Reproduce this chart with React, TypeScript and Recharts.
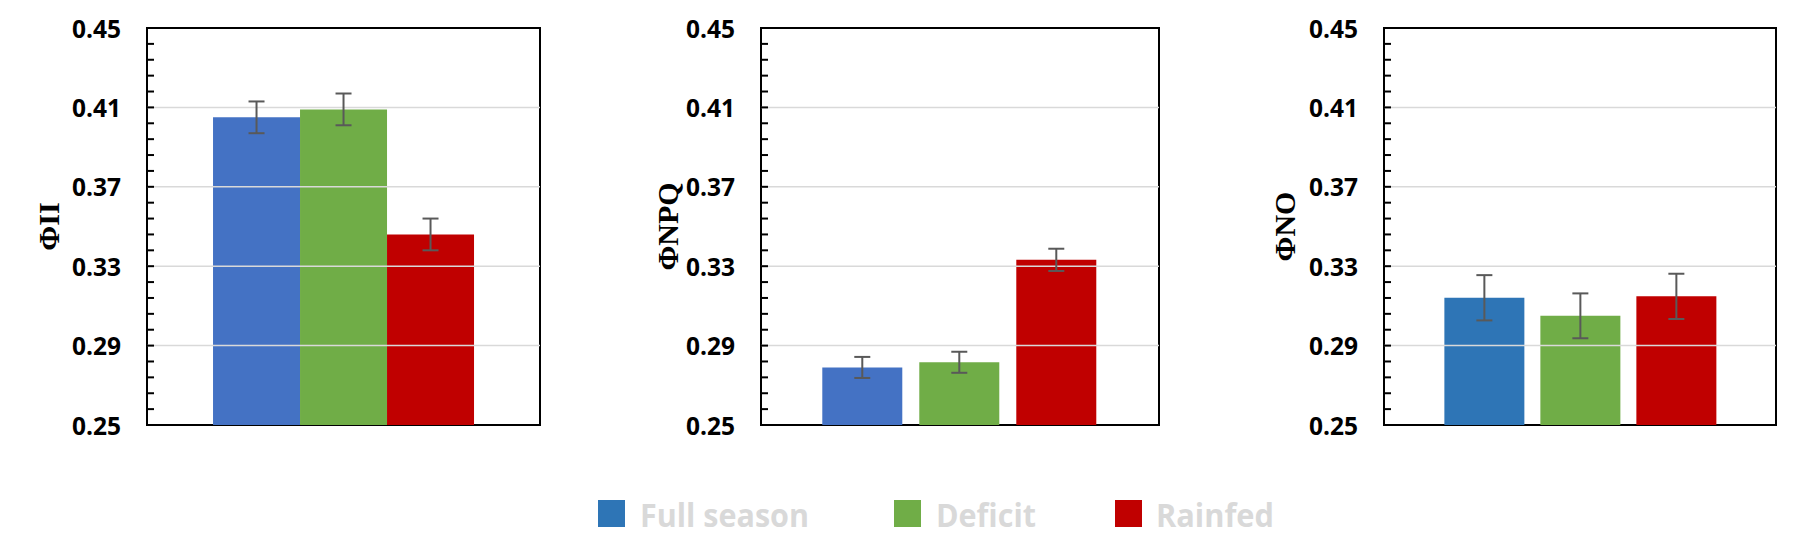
import React from "react"
import {
    BarChart, Bar, XAxis, YAxis, ErrorBar, ReferenceArea, ReferenceLine,
} from "recharts"

// treatments (series)
const seriesNames = ["Full season", "Deficit", "Rainfed"]
const seriesKeys = ["full", "deficit", "rainfed"]

// panel values, one entry per treatment
const phiII = [0.405, 0.409, 0.346]
const phiIIErr = [0.008, 0.008, 0.008]
const phiNPQ = [0.279, 0.2816, 0.3332]
const phiNPQErr = [0.0053, 0.0053, 0.0056]
const phiNO = [0.3141, 0.305, 0.3148]
const phiNOErr = [0.0114, 0.0113, 0.0114]

const yTicks = [0.25, 0.29, 0.33, 0.37, 0.41, 0.45]
const gridValues = [0.29, 0.33, 0.37, 0.41]
const allTicks = [
    0.25, 0.258, 0.266, 0.274, 0.282, 0.29, 0.298, 0.306, 0.314, 0.322, 0.33, 0.338, 0.346,
    0.354, 0.362, 0.37, 0.378, 0.386, 0.394, 0.402, 0.41, 0.418, 0.426, 0.434, 0.442, 0.45,
]

const LABEL_FONT = "'Open Sans', 'Noto Sans', sans-serif"
const TITLE_FONT = "'Liberation Serif', 'Times New Roman', serif"

function buildRow(values: number[], errors: number[]) {
    const row: Record<string, number | string> = { name: "" }
    seriesKeys.forEach((k, i) => {
        row[k] = values[i]
        row[k + "Err"] = errors[i]
    })
    return [row]
}

const panels = [
    {
        title: "ΦII", values: phiII, errors: phiIIErr,
        colors: ["#4472C4", "#70AD47", "#C00000"],
        plotLeft: 147, plotRight: 540, catGap: "16.8%", barGap: 0, titleOffset: 99,
    },
    {
        title: "ΦNPQ", values: phiNPQ, errors: phiNPQErr,
        colors: ["#4472C4", "#70AD47", "#C00000"],
        plotLeft: 761, plotRight: 1159, catGap: "15.4%", barGap: 17, titleOffset: 94,
    },
    {
        title: "ΦNO", values: phiNO, errors: phiNOErr,
        colors: ["#2E75B6", "#70AD47", "#C00000"],
        plotLeft: 1384, plotRight: 1776, catGap: "15.4%", barGap: 16, titleOffset: 100,
    },
]

const legendColors = ["#2E75B6", "#70AD47", "#C00000"]

const AXIS_W = 140
const CHART_H = 470
const PLOT_TOP = 28
const PLOT_BOTTOM = 425

// inward tick mark on every step, number only on the major steps
function AxisTick(props: any) {
    const { x, y, payload } = props
    const v = payload.value as number
    const major = yTicks.some((t) => Math.abs(t - v) < 1e-6)
    return (
        <g>
            <line x1={x} x2={x + 7} y1={y} y2={y} stroke="#000" strokeWidth={2} />
            {major && (
                <text
                    x={x - 26}
                    y={y}
                    textAnchor="end"
                    dominantBaseline="central"
                    fontFamily={LABEL_FONT}
                    fontWeight={700}
                    fontSize={24.5}
                    fill="#000"
                >
                    {v.toFixed(2)}
                </text>
            )}
        </g>
    )
}

function Panel({ p }: { p: typeof panels[number] }) {
    const data = buildRow(p.values, p.errors)
    const width = p.plotRight - p.plotLeft + AXIS_W + 6
    return (
        <div style={{ position: "absolute", left: p.plotLeft - AXIS_W, top: 0 }}>
            <BarChart
                width={width}
                height={CHART_H}
                data={data}
                margin={{ top: PLOT_TOP, right: 6, left: 0, bottom: CHART_H - PLOT_BOTTOM }}
                barCategoryGap={p.catGap}
                barGap={p.barGap}
            >
                <XAxis dataKey="name" hide />
                <YAxis
                    width={AXIS_W}
                    domain={[0.25, 0.45]}
                    ticks={allTicks}
                    interval={0}
                    axisLine={false}
                    tickLine={false}
                    tickSize={0}
                    tickMargin={0}
                    tick={<AxisTick />}
                    label={{
                        content: (props: any) => {
                            const vb = props.viewBox
                            const cx = vb.x + vb.width - p.titleOffset
                            const cy = vb.y + vb.height / 2
                            return (
                                <text
                                    x={cx}
                                    y={cy}
                                    transform={`rotate(-90 ${cx} ${cy})`}
                                    textAnchor="middle"
                                    dominantBaseline="central"
                                    fontFamily={TITLE_FONT}
                                    fontWeight={700}
                                    fontSize={30}
                                    fill="#000"
                                >
                                    {p.title}
                                </text>
                            )
                        },
                    }}
                />
                {gridValues.map((v) => (
                    <ReferenceLine key={v} y={v} stroke="#d9d9d9" strokeWidth={1.5} />
                ))}
                {seriesKeys.map((k, i) => (
                    <Bar
                        key={k}
                        dataKey={k}
                        name={seriesNames[i]}
                        fill={p.colors[i]}
                        isAnimationActive={false}
                    >
                        <ErrorBar
                            dataKey={k + "Err"}
                            width={8}
                            stroke="#595959"
                            strokeWidth={2}
                            direction="y"
                        />
                    </Bar>
                ))}
                <ReferenceArea
                    y1={0.25}
                    y2={0.45}
                    fill="none"
                    fillOpacity={0}
                    stroke="#000"
                    strokeWidth={2}
                    ifOverflow="visible"
                />
            </BarChart>
        </div>
    )
}

// legend item layout (x of swatch, x of text, text width)
const legendLayout = [
    { sx: 598, tx: 640, tw: 169 },
    { sx: 894, tx: 936, tw: 100 },
    { sx: 1115, tx: 1156, tw: 118 },
]

function LegendRow() {
    return (
        <svg
            width={1799}
            height={556}
            style={{ position: "absolute", left: 0, top: 0, pointerEvents: "none" }}
        >
            {seriesNames.map((name, i) => (
                <g key={name}>
                    <rect x={legendLayout[i].sx} y={500} width={27} height={27} fill={legendColors[i]} />
                    <text
                        x={legendLayout[i].tx}
                        y={527}
                        textLength={legendLayout[i].tw}
                        lengthAdjust="spacingAndGlyphs"
                        fontFamily={LABEL_FONT}
                        fontWeight={700}
                        fontSize={33}
                        fill="#d9d9d9"
                    >
                        {name}
                    </text>
                </g>
            ))}
        </svg>
    )
}

export default function App() {
    return (
        <div
            style={{
                position: "absolute", left: 0, top: 0, width: 1799, height: 556,
                background: "#fff", overflow: "hidden",
            }}
        >
            {panels.map((p) => (
                <Panel key={p.title} p={p} />
            ))}
            <LegendRow />
        </div>
    )
}
